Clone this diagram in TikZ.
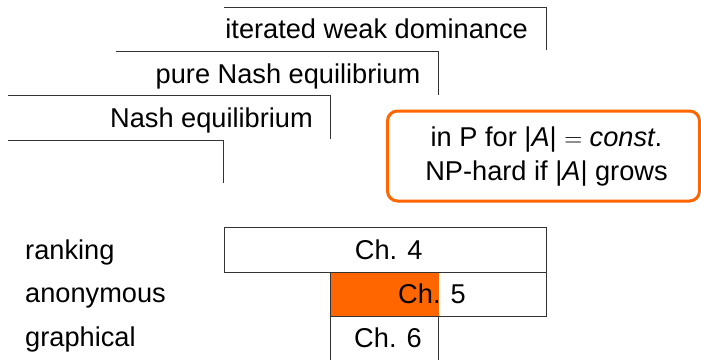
\documentclass[tikz,border=0pt]{standalone}
\usepackage{fontspec}
\setmainfont{Liberation Sans}
\definecolor{orng}{RGB}{255,102,0}
\begin{document}
\begin{tikzpicture}[x=1pt,y=-1pt,
  rule/.style={draw=black!80, line width=1pt},
  lbl/.style={font=\fontsize{27.2}{34}\selectfont, inner sep=0pt},
  notebox/.style={draw=orng, line width=3pt, rounded corners=10pt, minimum width=312pt, minimum height=90pt, inner sep=0pt},
  cell/.style={draw=black!80, line width=1pt}]
\useasboundingbox (0,0) rectangle (701,359);
% staircase of solution concepts
\draw[rule] (224,7) -- (546,7) -- (546,50);
\node[lbl, anchor=base east] (iwd) at (528,38.5) {iterated weak dominance};
\draw[rule] (116,51) -- (438,51) -- (438,95);
\node[lbl, anchor=base east] (pne) at (420.5,83) {pure Nash equilibrium};
\draw[rule] (8,95) -- (330,95) -- (330,139);
\node[lbl, anchor=base east] (ne) at (313,127) {Nash equilibrium};
\draw[rule] (8,140) -- (223,140) -- (223,183);
% note
\node[notebox] (note) at (543.5,156) {};
\node[lbl, anchor=base] (n1) at (546.5,146) {in P for |\textit{A}| $=$ \textit{const}.};
\node[lbl, anchor=base] (n2) at (546.5,180) {NP-hard if |\textit{A}| grows};
% chapters
\fill[orng] (330.7,272.3) rectangle (438.5,316);
\draw[cell] (224,227.7) rectangle (546,272.3);
\draw[cell] (330.7,272.3) rectangle (546,316);
\draw[cell] (330.7,362) -- (330.7,316) -- (438.5,316) -- (438.5,362);
\node[lbl, anchor=base] (c4) at (388.7,259) {Ch. 4};
\node[lbl, anchor=base] (c5) at (432,303.3) {Ch. 5};
\node[lbl, anchor=base] (c6) at (388,347.5) {Ch. 6};
\node[lbl, anchor=base west] (rk) at (25,259.3) {ranking};
\node[lbl, anchor=base west] (an) at (25,302.7) {anonymous};
\node[lbl, anchor=base west] (gr) at (25,346.7) {graphical};
\end{tikzpicture}
\end{document}
